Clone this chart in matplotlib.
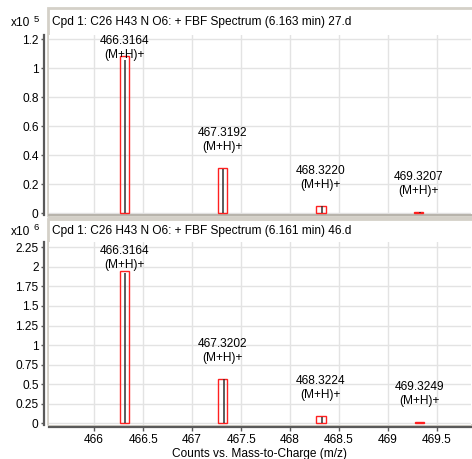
import matplotlib
matplotlib.use("Agg")
import matplotlib.pyplot as plt
from matplotlib.patches import Rectangle
from matplotlib.lines import Line2D

plt.rcParams['font.family'] = ['Liberation Sans', 'DejaVu Sans']

# ---- data ----
titles = ["Cpd 1: C26 H43 N O6: + FBF Spectrum (6.163 min) 27.d",
          "Cpd 1: C26 H43 N O6: + FBF Spectrum (6.161 min) 46.d"]
exponents = ["5", "6"]
mz_top = [466.3164, 467.3192, 468.3220, 469.3207]
obs_top = [1.056, 0.308, 0.050, 0.006]
theo_top = [1.080, 0.314, 0.052, 0.008]
mz_bot = [466.3164, 467.3202, 468.3224, 469.3249]
obs_bot = [1.924, 0.560, 0.085, 0.008]
theo_bot = [1.944, 0.565, 0.092, 0.012]
ion_label = "(M+H)+"
yticks_top = [0, 0.2, 0.4, 0.6, 0.8, 1.0, 1.2]
yticks_bot = [0, 0.25, 0.5, 0.75, 1.0, 1.25, 1.5, 1.75, 2.0, 2.25]
xticks = [466, 466.5, 467, 467.5, 468, 468.5, 469, 469.5]
xlabel = "Counts vs. Mass-to-Charge (m/z)"

W, H = 472, 459
DPI = 100
fig = plt.figure(figsize=(W / DPI, H / DPI), dpi=DPI)

def fx(px):
    return px / W

def fy(py):
    return 1 - py / H

FRAME = "#d4d0c8"
GRID = "#e3e3e3"
SPINE = "#5a5a5a"
FS = 8.6

xlim = (465.539, 469.846)

panels = [
    dict(top=35, bot=215, ylim=(-0.0117, 1.2276), yticks=yticks_top,
         mz=mz_top, obs=obs_top, theo=theo_top, title=titles[0], exp=exponents[0],
         frame=(8, 217), title_y=22, clamp=13),
    dict(top=242, bot=425, ylim=(-0.022, 2.318), yticks=yticks_bot,
         mz=mz_bot, obs=obs_bot, theo=theo_bot, title=titles[1], exp=exponents[1],
         frame=(219, 425), title_y=231, clamp=16),
]

x0, x1 = 49, 471
box_w = 0.095
box_shift = -0.008

for i, p in enumerate(panels):
    # frame around title + plot
    ft, fb = p['frame']
    fig.add_artist(Rectangle((fx(47.5), fy(fb)), fx(W + 5 - 47.5), (fb - ft) / H,
                             transform=fig.transFigure, fill=False,
                             edgecolor=FRAME, linewidth=2.0, zorder=0))
    ax = fig.add_axes([fx(x0), fy(p['bot']), fx(x1 - x0), (p['bot'] - p['top']) / H])
    ax.set_xlim(*xlim)
    ax.set_ylim(*p['ylim'])
    ax.set_yticks(p['yticks'])
    ax.set_yticklabels([("%g" % v) for v in p['yticks']], fontsize=FS)
    ax.set_xticks(xticks)
    ax.grid(True, color=GRID, linewidth=1.0)
    ax.set_axisbelow(True)
    for s in ['top', 'right']:
        ax.spines[s].set_visible(False)
    ax.spines['left'].set_color(SPINE)
    ax.spines['left'].set_linewidth(1.6)
    ax.spines['left'].set_position(('outward', 3.5))
    ax.tick_params(axis='y', length=2.5, width=1.0, color=SPINE, pad=1.5, labelsize=FS)
    if i == 0:
        ax.spines['bottom'].set_color("#b8b4ac")
        ax.spines['bottom'].set_linewidth(1.5)
        ax.tick_params(axis='x', length=0, labelbottom=False)
    else:
        ax.spines['bottom'].set_color(SPINE)
        ax.spines['bottom'].set_linewidth(1.6)
        ax.spines['bottom'].set_position(('outward', 1.5))
        ax.set_xticklabels([("%g" % v) for v in xticks], fontsize=FS)
        ax.tick_params(axis='x', length=3, width=1.0, color=SPINE, pad=2, labelsize=FS)
        ax.set_xlabel(xlabel, fontsize=FS, labelpad=1.5)

    # peaks
    for m, o, t in zip(p['mz'], p['obs'], p['theo']):
        c = m + box_shift
        ax.add_patch(Rectangle((c - box_w / 2, 0), box_w, t, fill=False,
                               edgecolor="#ff2020", linewidth=1.0, zorder=3))
        ax.vlines(m, 0, o, color="#303030", linewidth=1.1, zorder=4)
        # label placement: 28 px above box top, clamped under the axes top
        ydisp = ax.transData.transform((c, t))[1] + 28 * DPI / 100
        ytop = ax.transAxes.transform((0, 1))[1] - p['clamp'] * DPI / 100
        ydisp = min(ydisp, ytop)
        ylab = ax.transData.inverted().transform((0, ydisp))[1]
        ax.text(c, ylab, "%.4f\n%s" % (m, ion_label), ha='center', va='center',
                fontsize=FS, linespacing=1.2, zorder=5)

    fig.text(fx(52), fy(p['title_y']), p['title'], fontsize=FS, ha='left', va='center')
    fig.text(fx(30.5), fy(p['title_y'] + 1), "x10", fontsize=FS, ha='right', va='center')
    fig.text(fx(34), fy(p['title_y'] - 3), p['exp'], fontsize=6.8, ha='left', va='center')

fig.savefig("out.png", dpi=DPI)
